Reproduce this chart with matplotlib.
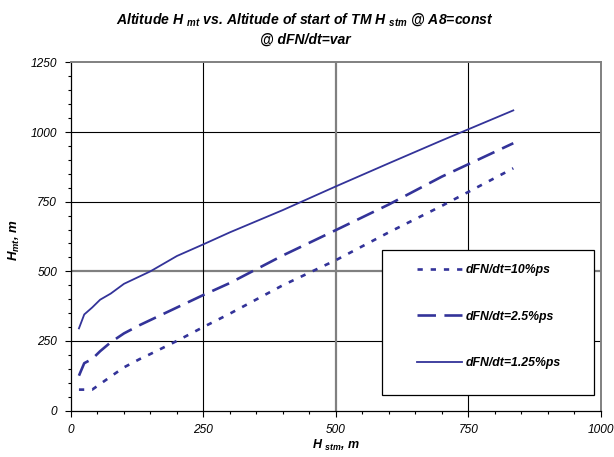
import matplotlib
matplotlib.use("Agg")
import matplotlib.pyplot as plt
from matplotlib.ticker import MultipleLocator
from matplotlib.patches import Rectangle

plt.rcParams['font.family'] = ['Liberation Sans', 'DejaVu Sans']
plt.rcParams['mathtext.fontset'] = 'custom'
plt.rcParams['mathtext.rm'] = 'Liberation Sans:bold:italic'
plt.rcParams['mathtext.it'] = 'Liberation Sans:bold:italic'
plt.rcParams['mathtext.bf'] = 'Liberation Sans:bold:italic'

# Data
x_h = [15, 25, 40, 55, 75, 100, 130, 150, 200, 250, 300, 400, 500, 600, 700, 835]
y_10 = [75, 75, 75, 95, 122, 155, 185, 203, 250, 300, 348, 450, 540, 640, 735, 870]
y_25 = [125, 170, 185, 213, 245, 277, 307, 325, 370, 415, 458, 557, 648, 740, 840, 960]
y_125 = [295, 345, 370, 398, 420, 455, 482, 500, 555, 597, 640, 720, 805, 888, 970, 1078]
labels = ['dFN/dt=10%ps', 'dFN/dt=2.5%ps', 'dFN/dt=1.25%ps']
x_ticks = [0, 250, 500, 750, 1000]
y_ticks = [0, 250, 500, 750, 1000, 1250]

color = '#333399'

fig = plt.figure(figsize=(6.14, 4.57), dpi=100)
ax = fig.add_axes([71/614, 1 - 410.5/457, (600.7-71)/614, (410.5-62.5)/457])

ax.set_xlim(0, 1000)
ax.set_ylim(0, 1250)

# grid
for v in [250, 750, 1000]:
    ax.axhline(v, color='black', lw=0.8, zorder=1)
ax.axhline(500, color='#808080', lw=1.6, zorder=1)
for v in [250, 750]:
    ax.axvline(v, color='black', lw=0.8, zorder=1)
ax.axvline(500, color='#808080', lw=1.6, zorder=1)

l1, = ax.plot(x_h, y_10, color=color, lw=1.9, zorder=3)
l1.set_dashes([2.0, 3.0])
l2, = ax.plot(x_h, y_25, color=color, lw=1.9, zorder=3)
l2.set_dashes([7.0, 3.2])
l3, = ax.plot(x_h, y_125, color=color, lw=1.3, zorder=3)
for l, lab in zip([l1, l2, l3], labels):
    l.set_label(lab)

for s in ['top', 'right']:
    ax.spines[s].set_color('#808080')
    ax.spines[s].set_linewidth(1.4)
for s in ['left', 'bottom']:
    ax.spines[s].set_color('black')
    ax.spines[s].set_linewidth(0.9)

ax.set_xticks(x_ticks)
ax.set_yticks(y_ticks)
ax.xaxis.set_minor_locator(MultipleLocator(50))
ax.yaxis.set_minor_locator(MultipleLocator(50))
ax.tick_params(which='both', direction='out', colors='black', width=0.8)
ax.tick_params(which='major', length=4, labelsize=8.6, pad=6)
ax.tick_params(which='minor', length=2.5)
for t in ax.get_xticklabels() + ax.get_yticklabels():
    t.set_fontstyle('italic')

ax.set_xlabel(r'H $_{\mathrm{stm}}$, m', fontsize=9, fontweight='bold', fontstyle='italic', labelpad=1)
ax.set_ylabel(r'H$_{\mathrm{mt}}$, m', fontsize=9.5, fontweight='bold', fontstyle='italic')
ax.yaxis.set_label_coords(-0.092, 0.49)

fig.text(0.497, 1 - 29/457,
         'Altitude H $_{\\mathrm{mt}}$ vs. Altitude of start of TM H $_{\\mathrm{stm}}$ @ A8=const\n@ dFN/dt=var',
         ha='center', va='center', fontsize=10.1, fontweight='bold', fontstyle='italic', linespacing=1.4)

# legend box
ax.add_patch(Rectangle((0.5866, 0.0445), 0.987 - 0.5866, 0.460 - 0.0445, transform=ax.transAxes,
                       facecolor='white', edgecolor='black', lw=0.9, zorder=4))
leg = ax.legend(loc='upper left', bbox_to_anchor=(0.6526, 0.4215), frameon=False,
                borderpad=0, borderaxespad=0, handlelength=3.7, handletextpad=0.3,
                labelspacing=2.85, prop={'size': 8.8, 'weight': 'bold', 'style': 'italic'})
leg.set_zorder(5)

fig.savefig('out.png', dpi=100, facecolor='white')
